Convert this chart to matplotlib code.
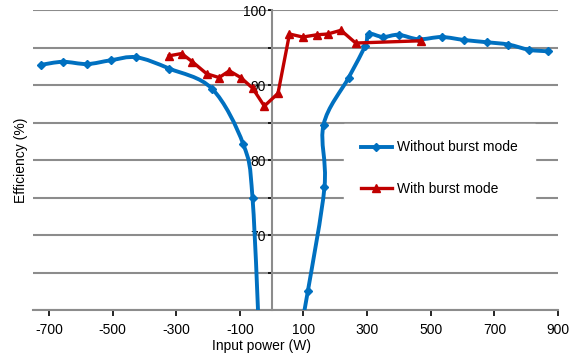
import numpy as np
import matplotlib
matplotlib.use("Agg")
import matplotlib.pyplot as plt
from matplotlib.path import Path
from matplotlib.patches import PathPatch
from matplotlib.lines import Line2D

plt.rcParams['font.family'] = ['Liberation Sans', 'DejaVu Sans']
plt.rcParams['axes.unicode_minus'] = False

# without burst mode, left branch (negative power)
wo_left_p = [-724, -656, -580, -506, -425, -322, -187, -89, -60, -35]
wo_left_e = [92.7, 93.1, 92.8, 93.3, 93.7, 92.2, 89.5, 82.1, 74.9, 52.0]
# without burst mode, right branch (positive power)
wo_right_p = [80, 114, 166, 163, 242, 294, 305, 350, 399, 462, 534, 606, 678, 744, 809, 867]
wo_right_e = [55.0, 62.6, 76.4, 84.7, 91.0, 95.2, 96.8, 96.4, 96.7, 96.1, 96.4, 96.0, 95.7, 95.4, 94.7, 94.5]
# with burst mode
w_p = [-322, -283, -249, -204, -165, -133, -97, -60, -23, 20, 56, 98, 142, 176, 218, 264, 470]
w_e = [93.9, 94.2, 93.1, 91.5, 91.0, 91.9, 91.0, 89.6, 87.2, 88.9, 96.8, 96.4, 96.7, 96.8, 97.3, 95.6, 95.9]

xticks = [-700, -500, -300, -100, 100, 300, 500, 700, 900]
xticklabels = ['-700', '-500', '-300', '-100', '100', '300', '500', '700', '900']
yticks = [70, 80, 90, 100]
yticklabels = ['70', '80', '90', '100']

blue = '#0070C0'
red = '#C00000'
grid_c = '#8C8C8C'


def smooth_path(xs, ys):
    # Catmull-Rom style bezier through the points, like a smoothed spreadsheet line
    pts = np.column_stack([xs, ys]).astype(float)
    n = len(pts)
    verts = [pts[0]]
    codes = [Path.MOVETO]
    for i in range(n - 1):
        p0 = pts[i - 1] if i > 0 else pts[i]
        p1 = pts[i]
        p2 = pts[i + 1]
        p3 = pts[i + 2] if i + 2 < n else pts[i + 1]
        c1 = p1 + (p2 - p0) / 6.0
        c2 = p2 - (p3 - p1) / 6.0
        verts += [c1, c2, p2]
        codes += [Path.CURVE4] * 3
    return Path(verts, codes)


fig = plt.figure(figsize=(5.82, 3.56), dpi=100)
ax = fig.add_axes([0.0567, 0.1284, 0.9021, 0.8435])
ax.set_xlim(-750, 900)
ax.set_ylim(60, 100)

for v in np.arange(60, 101, 5):
    ax.axhline(v, color=grid_c, lw=1.5, zorder=1)

for xs, ys in [(wo_left_p, wo_left_e), (wo_right_p, wo_right_e)]:
    ax.add_patch(PathPatch(smooth_path(xs, ys), facecolor='none', edgecolor=blue,
                           lw=2.8, zorder=3, capstyle='butt'))
    ax.plot(xs, ys, linestyle='none', marker='D', color=blue, ms=4.5, zorder=4)

ax.plot(w_p, w_e, color=red, lw=2.4, marker='^', ms=6, zorder=5)

for s in ['top', 'right']:
    ax.spines[s].set_visible(False)
ax.spines['left'].set_position(('data', 0))
ax.spines['left'].set_color(grid_c)
ax.spines['left'].set_linewidth(1.5)
ax.spines['bottom'].set_color(grid_c)
ax.spines['bottom'].set_linewidth(1.5)

ax.set_xticks(xticks)
ax.set_xticklabels(xticklabels, fontsize=10)
ax.set_yticks(yticks)
ax.set_yticklabels(yticklabels, fontsize=10)
ax.set_yticks([65, 75, 85, 95], minor=True)
ax.tick_params(axis='x', direction='out', length=4, width=1.2, color='black', pad=5)
ax.tick_params(axis='y', which='both', direction='out', length=3, width=1.2, color='black', pad=1)

ax.set_xlabel('Input power (W)', fontsize=10)
ax.xaxis.set_label_coords(0.436, -0.095)
ax.set_ylabel('Efficiency (%)', fontsize=10)
ax.yaxis.set_label_coords(-0.01, 0.5)

handles = [Line2D([], [], color=blue, lw=2.8, marker='D', ms=4.5),
           Line2D([], [], color=red, lw=2.4, marker='^', ms=6)]
leg = ax.legend(handles, ['Without burst mode', 'With burst mode'], loc='center left',
                bbox_to_anchor=(0.58, 0.473), fontsize=10, frameon=True, fancybox=False,
                edgecolor='white', facecolor='white', framealpha=1, borderpad=1.2,
                labelspacing=2.0, handlelength=2.2, handletextpad=0.4)
leg.set_zorder(6)

fig.savefig('out.png', dpi=100)
